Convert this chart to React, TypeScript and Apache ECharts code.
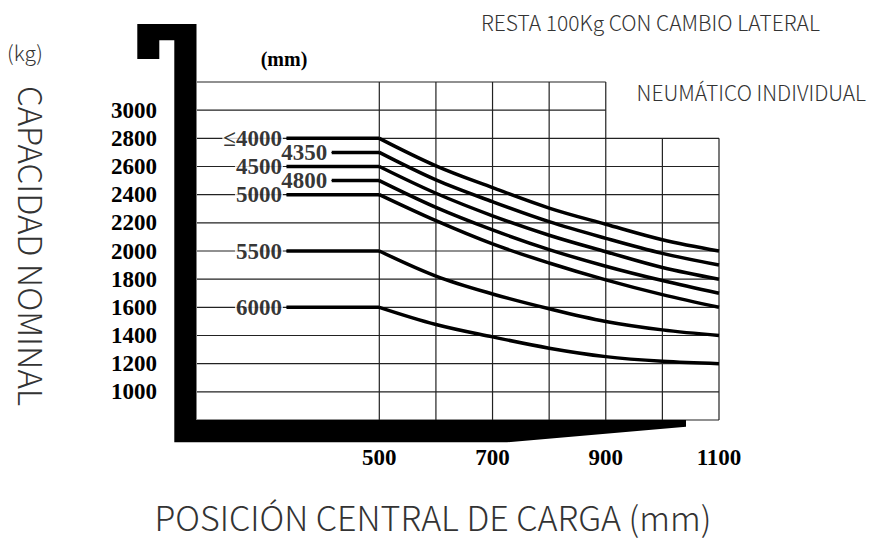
import React, { useEffect, useRef } from "react";
import * as echarts from "echarts";

// ---- data ----
const loadCenters = [500, 600, 700, 800, 900, 1000, 1100];
const xTickLabels = [500, 700, 900, 1100];
const yMin = 800;
const yMax = 3200;
const xMin = 178;
const xMax = 1100;

const curveNames = ["≤4000", "4350", "4500", "4800", "5000", "5500", "6000"];
const curveStart = [336, 416, 336, 416, 336, 336, 336];
const cap4000 = [2800, 2605, 2450, 2305, 2190, 2080, 2000];
const cap4350 = [2700, 2505, 2350, 2208, 2090, 1983, 1900];
const cap4500 = [2600, 2410, 2250, 2112, 1995, 1883, 1800];
const cap4800 = [2500, 2310, 2150, 2010, 1892, 1790, 1700];
const cap5000 = [2400, 2215, 2050, 1915, 1795, 1690, 1600];
const cap5500 = [2000, 1822, 1695, 1590, 1500, 1440, 1400];
const cap6000 = [1600, 1478, 1390, 1310, 1250, 1217, 1200];
const curves = [cap4000, cap4350, cap4500, cap4800, cap5000, cap5500, cap6000];

const hGridValues = [800, 1000, 1200, 1400, 1600, 1800, 2000, 2200, 2400, 2600, 2800, 3000, 3200];
const hGridRight = [1100, 1100, 1100, 1100, 1100, 1100, 1100, 1100, 1100, 1100, 1100, 900, 900];
const vGridValues = [500, 600, 700, 800, 900, 1000, 1100];
const vGridTop = [3200, 3200, 3200, 3200, 3200, 2800, 2800];

const noteSide = "RESTA 100Kg CON CAMBIO LATERAL";
const noteTyre = "NEUMÁTICO INDIVIDUAL";
const xTitle = "POSICIÓN CENTRAL DE CARGA (mm)";
const yTitle = "CAPACIDAD NOMINAL";
const yUnit = "(kg)";
const heightUnit = "(mm)";

const SERIF = '"Liberation Serif", "DejaVu Serif", serif';
const SANS = '"Noto Sans CJK SC", "Noto Sans", sans-serif';

export default function App() {
  const ref = useRef<HTMLDivElement>(null);

  useEffect(() => {
    if (!ref.current) return;
    const chart = echarts.init(ref.current, undefined, { renderer: "svg" });

    const gridSegments: number[][] = [];
    hGridValues.forEach((v, i) => gridSegments.push([xMin, v, hGridRight[i], v]));
    vGridValues.forEach((x, i) => gridSegments.push([x, yMin, x, vGridTop[i]]));

    const series: any[] = [
      {
        type: "custom",
        name: "grid",
        silent: true,
        z: 1,
        data: gridSegments,
        encode: { x: [0, 2], y: [1, 3] },
        renderItem: (params: any, api: any) => {
          const p1 = api.coord([api.value(0), api.value(1)]);
          const p2 = api.coord([api.value(2), api.value(3)]);
          return {
            type: "line",
            shape: { x1: p1[0], y1: p1[1], x2: p2[0], y2: p2[1] },
            style: { stroke: "#222", lineWidth: 1.2 },
          };
        },
      },
    ];

    curves.forEach((vals, i) => {
      series.push({
        type: "line",
        name: curveNames[i] + " flat",
        data: [
          [curveStart[i], vals[0]],
          [loadCenters[0], vals[0]],
        ],
        symbol: "none",
        z: 3,
        lineStyle: { color: "#000", width: 3.5 },
      });
      series.push({
        type: "line",
        name: curveNames[i],
        data: loadCenters.map((x, j) => [x, vals[j]]),
        smooth: 0.35,
        symbol: "none",
        z: 3,
        lineStyle: { color: "#000", width: 3.5 },
      });
    });

    series.push({
      type: "scatter",
      name: "labels",
      z: 4,
      symbol: "rect",
      symbolSize: 1,
      itemStyle: { color: "#000" },
      data: curves.map((vals, i) => [curveStart[i], vals[0], curveNames[i]]),
      label: {
        show: true,
        position: "left",
        distance: 3,
        formatter: (p: any) => p.value[2],
        fontFamily: SERIF,
        fontWeight: "bold",
        fontSize: 23,
        color: "#000",
        backgroundColor: "#fff",
        padding: [0, 1],
        lineHeight: 18,
      },
    });

    chart.setOption({
      animation: false,
      backgroundColor: "#fff",
      grid: { left: 197, right: 151, top: 82, bottom: 119 },
      xAxis: {
        type: "value",
        min: xMin,
        max: xMax,
        axisLine: { show: false },
        axisTick: { show: false },
        splitLine: { show: false },
        axisLabel: {
          customValues: xTickLabels,
          margin: 26,
          fontFamily: SERIF,
          fontWeight: "bold",
          fontSize: 23,
          color: "#000",
          formatter: (v: number) => String(v),
        },
      },
      yAxis: {
        type: "value",
        min: yMin,
        max: yMax,
        interval: 200,
        axisLine: { show: false },
        axisTick: { show: false },
        splitLine: { show: false },
        axisLabel: {
          margin: 40,
          fontFamily: SERIF,
          fontWeight: "bold",
          fontSize: 23,
          color: "#000",
          formatter: (v: number) => (v === yMin || v === yMax ? "" : String(v)),
        },
      },
      series,
      graphic: [
        {
          type: "polygon",
          z: 10,
          silent: true,
          shape: {
            points: [
              [137.3, 24],
              [196.5, 24],
              [196.5, 420],
              [686, 420],
              [686, 426.7],
              [507, 442.3],
              [174.3, 442.3],
              [174.3, 40.3],
              [159.3, 40.3],
              [159.3, 59],
              [137.3, 59],
            ],
          },
          style: { fill: "#000" },
        },
        {
          type: "text",
          z: 10,
          x: 284,
          y: 59,
          style: {
            text: heightUnit,
            fontFamily: SERIF,
            fontWeight: "bold",
            fontSize: 20,
            fill: "#000",
            align: "center",
            verticalAlign: "middle",
          },
        },
        {
          type: "text",
          z: 10,
          x: 481,
          y: 22,
          style: {
            text: noteSide,
            fontFamily: SANS,
            fontWeight: 300,
            fontSize: 21,
            lineHeight: 24,
            fill: "#333",
            align: "left",
            verticalAlign: "middle",
          },
        },
        {
          type: "text",
          z: 10,
          x: 866,
          y: 92,
          style: {
            text: noteTyre,
            fontFamily: SANS,
            fontWeight: 300,
            fontSize: 21,
            lineHeight: 24,
            fill: "#333",
            align: "right",
            verticalAlign: "middle",
          },
        },
        {
          type: "text",
          z: 10,
          x: 25,
          y: 52,
          style: {
            text: yUnit,
            fontFamily: SANS,
            fontWeight: 300,
            fontSize: 21,
            lineHeight: 24,
            fill: "#333",
            align: "center",
            verticalAlign: "middle",
          },
        },
        {
          type: "text",
          z: 10,
          x: 32,
          y: 246,
          rotation: -Math.PI / 2,
          style: {
            text: yTitle,
            fontFamily: SANS,
            fontWeight: 300,
            fontSize: 33,
            lineHeight: 36,
            fill: "#333",
            align: "center",
            verticalAlign: "middle",
          },
        },
        {
          type: "text",
          z: 10,
          x: 433,
          y: 516,
          style: {
            text: xTitle,
            fontFamily: SANS,
            fontWeight: 300,
            fontSize: 34,
            lineHeight: 36,
            fill: "#333",
            align: "center",
            verticalAlign: "middle",
          },
        },
      ],
    });

    return () => chart.dispose();
  }, []);

  return (
    <div
      ref={ref}
      style={{ position: "fixed", left: 0, top: 0, width: 870, height: 539, background: "#fff" }}
    />
  );
}
